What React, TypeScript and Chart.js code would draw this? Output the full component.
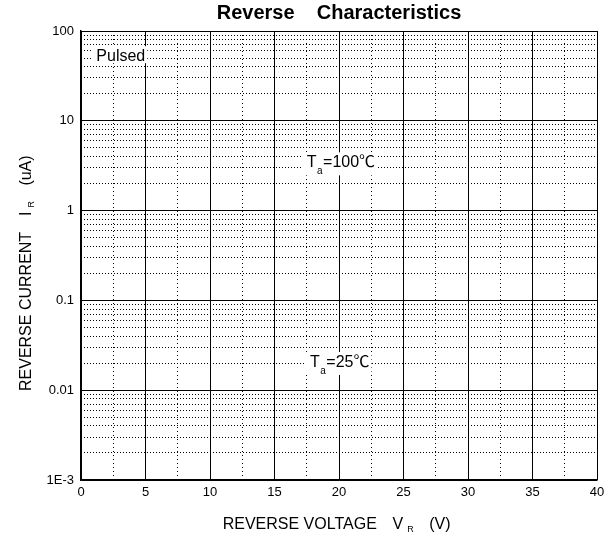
import { useEffect, useRef } from 'react';
import { Chart, registerables } from 'chart.js';

Chart.register(...registerables);

const chartTitle = 'Reverse    Characteristics';
const xMin = 0;
const xMax = 40;
const xMajorTicks = [0, 5, 10, 15, 20, 25, 30, 35, 40];
const xMinorTicks = [2.5, 7.5, 12.5, 17.5, 22.5, 27.5, 32.5, 37.5];
const yMin = 1e-3;
const yMax = 100;
const yMajorTicks = [1e-3, 1e-2, 0.1, 1, 10, 100];
const yTickLabels = ['1E-3', '0.01', '0.1', '1', '10', '100'];
const yDecades = [1e-3, 1e-2, 0.1, 1, 10];
const yMinorMultipliers = [2, 3, 4, 5, 6, 7, 8, 9];

// text notes on the plot (data coordinates of the text baseline start)
const noteMain = ['Pulsed', 'T', 'T'];
const noteSub = ['', 'a', 'a'];
const noteTail = ['', '=100℃', '=25℃'];
const noteX = [1.19, 17.5, 17.75];
const noteY = [46.1, 3.03, 0.01815];

const FONT = "'Liberation Sans', Arial, 'Noto Sans CJK SC', sans-serif";

type Piece = { text: string; size: number; dy: number; gap: number };

function drawPieces(ctx: CanvasRenderingContext2D, pieces: Piece[], x0: number, y0: number) {
  let x = x0;
  for (const p of pieces) {
    x += p.gap;
    ctx.font = `${p.size}px ${FONT}`;
    ctx.fillText(p.text, x, y0 + p.dy);
    x += ctx.measureText(p.text).width;
  }
  return x;
}

function widthOf(ctx: CanvasRenderingContext2D, pieces: Piece[]) {
  let w = 0;
  for (const p of pieces) {
    w += p.gap;
    ctx.font = `${p.size}px ${FONT}`;
    w += ctx.measureText(p.text).width;
  }
  return w;
}

const textPlugin = {
  id: 'textPlugin',
  afterDraw(chart: any) {
    const { ctx, chartArea, scales } = chart;
    const xs = scales.x;
    const ys = scales.y;
    ctx.save();
    ctx.textBaseline = 'alphabetic';
    ctx.textAlign = 'left';
    for (let i = 0; i < noteMain.length; i++) {
      const px = xs.getPixelForValue(noteX[i]);
      const py = ys.getPixelForValue(noteY[i]);
      const pieces: Piece[] = [{ text: noteMain[i], size: 16, dy: 0, gap: 0 }];
      if (noteSub[i]) pieces.push({ text: noteSub[i], size: 10, dy: 7, gap: 0.5 });
      if (noteTail[i]) pieces.push({ text: noteTail[i], size: 16, dy: 0, gap: 0.5 });
      const w = widthOf(ctx, pieces);
      const bottom = noteSub[i] ? 8 : 2;
      ctx.fillStyle = '#ffffff';
      ctx.fillRect(px - 4, py - 15, w + 6, 15 + bottom);
      ctx.fillStyle = '#000000';
      drawPieces(ctx, pieces, px, py);
    }
    // x axis title
    const xPieces: Piece[] = [
      { text: 'REVERSE VOLTAGE', size: 16, dy: 0, gap: 0 },
      { text: 'V', size: 16, dy: 0, gap: 15.8 },
      { text: 'R', size: 9, dy: 3, gap: 4 },
      { text: '(V)', size: 16, dy: 0, gap: 15.5 },
    ];
    ctx.fillStyle = '#000000';
    drawPieces(ctx, xPieces, chartArea.left + 141.7, chartArea.bottom + 49);
    // y axis title
    const yPieces: Piece[] = [
      { text: 'REVERSE CURRENT', size: 16, dy: 0, gap: 0 },
      { text: 'I', size: 16, dy: 0, gap: 15.8 },
      { text: 'R', size: 9, dy: 3, gap: 4 },
      { text: '(uA)', size: 16, dy: 0, gap: 15.5 },
    ];
    ctx.translate(chartArea.left - 50, chartArea.bottom - 89);
    ctx.rotate(-Math.PI / 2);
    drawPieces(ctx, yPieces, 0, 0);
    ctx.restore();
  },
};

export default function App() {
  const ref = useRef<HTMLCanvasElement | null>(null);

  useEffect(() => {
    if (!ref.current) return;
    const yMinorTicks: number[] = [];
    for (const d of yDecades) for (const m of yMinorMultipliers) yMinorTicks.push(d * m);

    const chart = new Chart(ref.current, {
      type: 'scatter',
      data: { datasets: [] },
      plugins: [textPlugin],
      options: {
        animation: false,
        responsive: false,
        layout: { padding: { left: 0, right: 19, top: 0, bottom: 0 } },
        plugins: {
          legend: { display: false },
          tooltip: { enabled: false },
          title: {
            display: true,
            text: chartTitle,
            fullSize: false,
            color: '#000',
            font: { family: FONT, size: 20, weight: 'bold', lineHeight: 1.2 },
            padding: { top: 1, bottom: 6 },
          },
        },
        scales: {
          x2: {
            type: 'linear',
            position: 'bottom',
            min: xMin,
            max: xMax,
            z: -1,
            ticks: { display: false },
            grid: { color: '#000', lineWidth: 1, drawTicks: false },
            border: { display: false, dash: [1, 3] },
            afterBuildTicks: (s: any) => {
              s.ticks = xMinorTicks.map((v) => ({ value: v }));
            },
            afterFit: (s: any) => {
              s.height = 0;
            },
          },
          y2: {
            type: 'logarithmic',
            position: 'left',
            min: yMin,
            max: yMax,
            z: -1,
            ticks: { display: false },
            grid: { color: '#000', lineWidth: 1, drawTicks: false },
            border: { display: false, dash: [1, 2] },
            afterBuildTicks: (s: any) => {
              s.ticks = yMinorTicks.map((v) => ({ value: v }));
            },
            afterFit: (s: any) => {
              s.width = 0;
            },
          },
          x: {
            type: 'linear',
            position: 'bottom',
            min: xMin,
            max: xMax,
            ticks: {
              color: '#000',
              font: { family: FONT, size: 13 },
              padding: 5,
              autoSkip: false,
              maxRotation: 0,
              callback: (v: any) => String(v),
            },
            grid: { color: '#000', lineWidth: 1, drawTicks: false },
            border: { display: true, color: '#000', width: 1.5 },
            afterBuildTicks: (s: any) => {
              s.ticks = xMajorTicks.map((v) => ({ value: v }));
            },
            afterFit: (s: any) => {
              s.height = 58;
            },
          },
          y: {
            type: 'logarithmic',
            position: 'left',
            min: yMin,
            max: yMax,
            ticks: {
              color: '#000',
              font: { family: FONT, size: 13 },
              padding: 7,
              autoSkip: false,
              callback: (_v: any, i: number) => yTickLabels[i],
            },
            grid: { color: '#000', lineWidth: 1, drawTicks: false },
            border: { display: true, color: '#000', width: 1.5 },
            afterBuildTicks: (s: any) => {
              s.ticks = yMajorTicks.map((v) => ({ value: v }));
            },
            afterFit: (s: any) => {
              s.width = 81;
            },
          },
        },
      } as any,
    });
    return () => chart.destroy();
  }, []);

  return (
    <div style={{ position: 'absolute', left: 0, top: 0, width: 616, height: 538 }}>
      <canvas ref={ref} width={616} height={538} />
    </div>
  );
}
